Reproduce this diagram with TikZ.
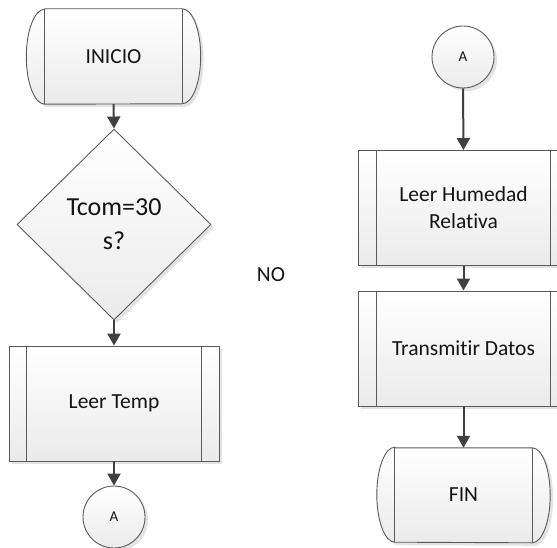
\documentclass[tikz,border=0pt]{standalone}
\usepackage{fontspec}
\setmainfont[Ligatures=NoCommon]{Carlito}
\usetikzlibrary{arrows.meta,shapes.geometric,shadows}
\pgfdeclarelayer{background}
\pgfsetlayers{background,main}
\definecolor{edge}{HTML}{5A5A5A}
\definecolor{flow}{HTML}{404040}
\definecolor{ink}{HTML}{141414}
\tikzset{
  x=1pt, y=1pt,
  soft/.style={drop shadow={shadow xshift=3pt, shadow yshift=-3pt, opacity=0.22, fill=gray}},
  bodyfill/.style={top color=white, bottom color=gray!16},
  outline/.style={draw=edge, line width=0.9pt},
  lbl/.style={text=ink, font=\fontsize{21.5}{27}\selectfont, align=center},
  termcore/.style={lbl, minimum width=137pt, minimum height=95pt, inner sep=0pt},
  procbox/.style={lbl, outline, bodyfill, soft, minimum width=211pt, minimum height=115pt, inner sep=0pt},
  decision/.style={diamond, outline, bodyfill, soft, minimum width=194pt, minimum height=191pt, inner sep=0pt,
    text=ink, font=\fontsize{26}{34}\selectfont, align=center},
  connector/.style={circle, outline, bodyfill, soft, minimum size=62pt, inner sep=0pt,
    text=ink, font=\fontsize{15}{18}\selectfont},
  flowarrow/.style={draw=flow, line width=2pt, -{Triangle[width=13pt,length=12pt]}},
}
% terminator: rectangle core with bulging ends
\newcommand{\termshape}[2]{%
  \begin{pgfonlayer}{background}
    \path[outline, bodyfill, soft] (#1.north west) -- (#1.north east)
      arc[start angle=90, end angle=-90, x radius=#2, y radius=47.5pt]
      -- (#1.south west)
      arc[start angle=270, end angle=90, x radius=#2, y radius=47.5pt] -- cycle;
  \end{pgfonlayer}
  \draw[outline] (#1.north west) -- (#1.south west);
  \draw[outline] (#1.north east) -- (#1.south east);
}
% process box: inner side bars
\newcommand{\sidebars}[2]{%
  \draw[outline] ([xshift=#2]#1.north west) -- ([xshift=#2]#1.south west);
  \draw[outline] ([xshift=-#2]#1.north east) -- ([xshift=-#2]#1.south east);
}
\begin{document}
\begin{tikzpicture}
\useasboundingbox (0,0) rectangle (557,-548);
\clip (0,0) rectangle (557,-548);

% left column
\node[termcore] (ini) at (113.5,-56.5) {INICIO};
\termshape{ini}{18.5pt}
\node[decision] (dec) at (114,-224.5) {Tcom=30\\s?};
\node[procbox, minimum width=210pt] (temp) at (114,-403.5) {Leer Temp};
\sidebars{temp}{18pt}
\node[connector] (ca) at (114,-517) {A};

% right column
\node[connector] (cb) at (463,-57) {A};
\node[procbox] (hum) at (463.5,-208) {Leer Humedad\\Relativa};
\sidebars{hum}{19pt}
\node[procbox] (tx) at (463.5,-348.5) {Transmitir Datos};
\sidebars{tx}{19pt}
\node[termcore, minimum height=94pt] (fin) at (463.5,-495) {FIN};
\termshape{fin}{18pt}

\node[lbl] (no) at (271,-275) {NO};

% connectors
\draw[flowarrow] (ini.south) -- (dec.north);
\draw[flowarrow] (dec.south) -- (temp.north);
\draw[flowarrow] (temp.south) -- (ca.north);
\draw[flowarrow] (cb.south) -- (hum.north);
\draw[flowarrow] (hum.south) -- (tx.north);
\draw[flowarrow] (tx.south) -- (fin.north);
\end{tikzpicture}
\end{document}
